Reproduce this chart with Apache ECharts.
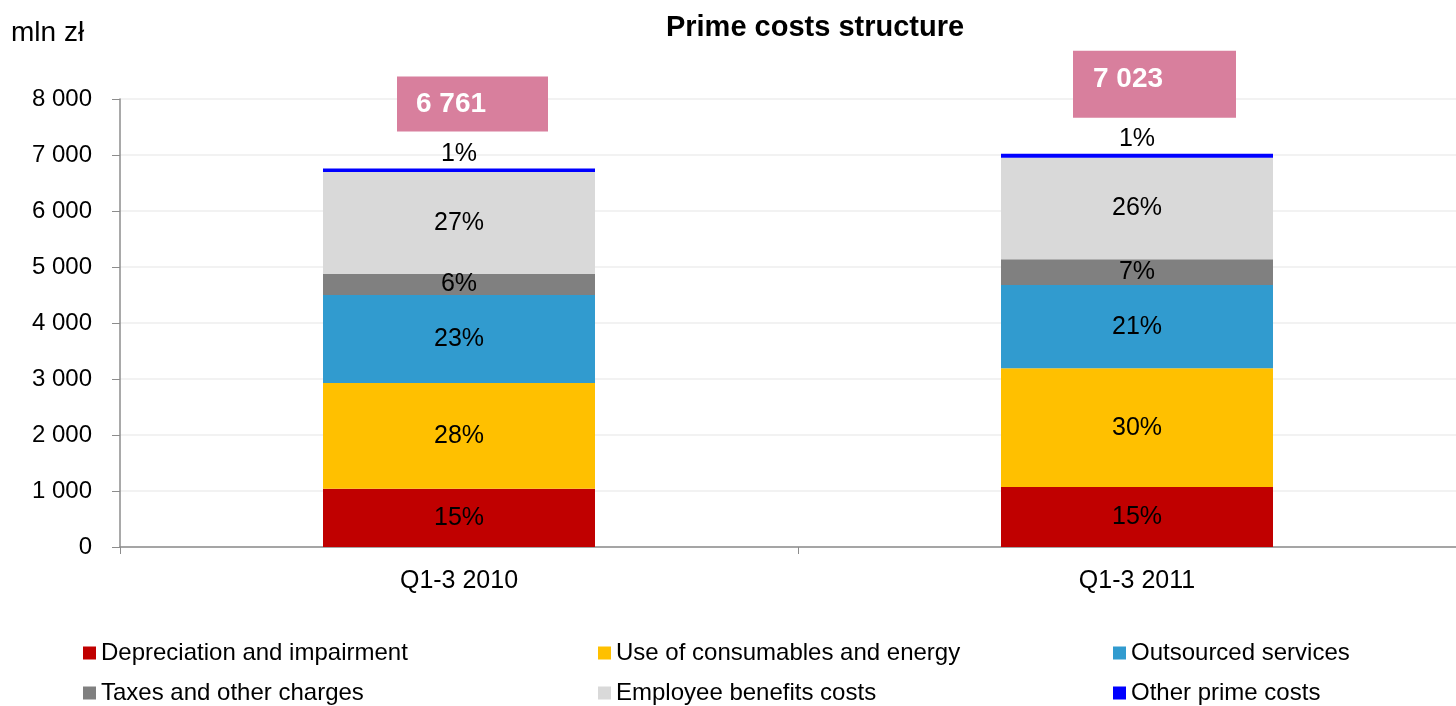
<!DOCTYPE html>
<html>
<head>
<meta charset="utf-8">
<script src="https://cdn.jsdelivr.net/npm/echarts@6/dist/echarts.min.js"></script>
<style>
  html, body { margin: 0; padding: 0; background: #fff; }
  #chart { width: 1456px; height: 706px; }
</style>
</head>
<body>
<div id="chart"></div>
<script>
// kategorie i dane (mln zł)
const categories = ['Q1-3 2010', 'Q1-3 2011']
const depreciation = [1040, 1070]
const consumables = [1890, 2120]
const outsourced = [1570, 1490]
const taxes = [375, 460]
const employee = [1820, 1810]
const other = [66, 73]
const yTicks = [0, 1000, 2000, 3000, 4000, 5000, 6000, 7000, 8000]

const seriesDefs = [
  { name: 'Depreciation and impairment', data: depreciation, color: '#c00000' },
  { name: 'Use of consumables and energy', data: consumables, color: '#ffc000' },
  { name: 'Outsourced services', data: outsourced, color: '#319bcf' },
  { name: 'Taxes and other charges', data: taxes, color: '#808080' },
  { name: 'Employee benefits costs', data: employee, color: '#d9d9d9' },
  { name: 'Other prime costs', data: other, color: '#0000ff' }
]

// sumy dla etykiet i procentów
const totals = categories.map((_, i) => seriesDefs.reduce((s, d) => s + d.data[i], 0))

const fmt = v => String(v).replace(/\B(?=(\d{3})+(?!\d))/g, ' ')
const font = 'Liberation Sans, Arial, sans-serif'

const chart = echarts.init(document.getElementById('chart'))

const barSeries = seriesDefs.map((d, idx) => ({
  name: d.name,
  type: 'bar',
  stack: 'total',
  barWidth: 272,
  data: d.data,
  itemStyle: { color: d.color },
  label: {
    show: true,
    position: idx === seriesDefs.length - 1 ? 'top' : 'inside',
    distance: 2,
    color: '#000',
    fontSize: 25,
    fontFamily: font,
    formatter: p => Math.round(p.value / totals[p.dataIndex] * 100) + '%'
  },
  emphasis: { disabled: true }
}))

// etykiety sum w różowych ramkach
const totalSeries = {
  name: 'total',
  type: 'scatter',
  symbolSize: 0,
  silent: true,
  itemStyle: { opacity: 1 },
  data: [
    {
      value: totals[0],
      label: { position: [-62, -92], padding: [0, 0, 0, 19], width: 132, height: 55, lineHeight: 55 }
    },
    {
      value: totals[1],
      label: { position: [-64, -103], padding: [0, 0, 9, 20], width: 143, height: 58, lineHeight: 58 }
    }
  ],
  label: {
    show: true,
    align: 'left',
    verticalAlign: 'top',
    backgroundColor: '#d87f9d',
    color: '#fff',
    fontWeight: 'bold',
    fontSize: 28,
    fontFamily: font,
    formatter: p => fmt(p.value)
  },
  z: 5
}

// legenda: trzy kolumny po dwa wiersze
const legendPos = [
  [83, 641], [598, 641], [1113, 641],
  [83, 681], [598, 681], [1113, 681]
]
const legends = seriesDefs.map((d, k) => ({
  left: legendPos[k][0],
  top: legendPos[k][1],
  padding: 0,
  itemWidth: 13,
  itemHeight: 13,
  itemGap: 0,
  icon: 'rect',
  selectedMode: false,
  textStyle: { fontSize: 24, fontFamily: font, color: '#000' },
  data: [d.name]
}))

const option = {
  animation: false,
  textStyle: { fontFamily: font },
  title: [
    {
      text: 'Prime costs structure',
      left: 810,
      textAlign: 'center',
      top: 8,
      textStyle: { fontSize: 29, fontWeight: 'bold', color: '#000', fontFamily: font }
    },
    {
      text: 'mln zł',
      left: 6,
      top: 14,
      textStyle: { fontSize: 28, fontWeight: 'normal', color: '#000', fontFamily: font }
    }
  ],
  legend: legends,
  grid: {
    left: 120,
    right: -20,
    top: 99,
    bottom: 159,
    outerBoundsMode: 'none',
    containLabel: false
  },
  xAxis: {
    type: 'category',
    data: categories,
    axisLine: { lineStyle: { color: '#8c8c8c', width: 1.5 } },
    axisTick: { show: true, length: 7, lineStyle: { color: '#8c8c8c' } },
    axisLabel: { color: '#000', fontSize: 25, fontFamily: font, margin: 22 }
  },
  yAxis: {
    type: 'value',
    min: yTicks[0],
    max: yTicks[yTicks.length - 1],
    interval: 1000,
    axisLine: { show: true, lineStyle: { color: '#8c8c8c', width: 1.5 } },
    axisTick: { show: true, length: 8, lineStyle: { color: '#8c8c8c' } },
    axisLabel: { color: '#000', fontSize: 24, fontFamily: font, margin: 28, formatter: v => fmt(v) },
    splitLine: { lineStyle: { color: '#eeeeee', width: 1.5 } }
  },
  series: [...barSeries, totalSeries]
}

chart.setOption(option)
</script>
</body>
</html>
